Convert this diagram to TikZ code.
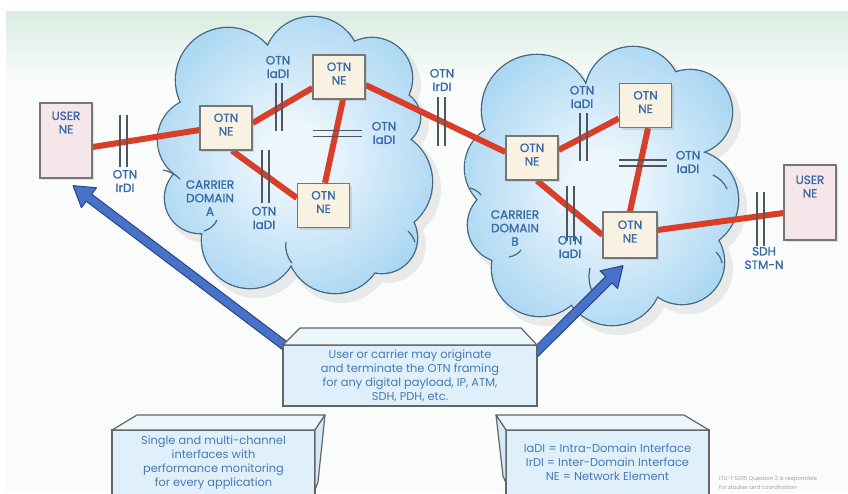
\documentclass[tikz,border=0pt]{standalone}
\usepackage{fontspec}
\setmainfont{Poppins}
\newfontfamily\lblfont{Poppins}[FakeBold=1.2]
\usetikzlibrary{calc,shadows}
\definecolor{cloudin}{RGB}{238,247,253}
\definecolor{cloudout}{RGB}{140,200,238}
\definecolor{cloudedge}{RGB}{70,102,124}
\definecolor{redline}{RGB}{216,62,40}
\definecolor{barcol}{RGB}{78,86,96}
\definecolor{necream}{RGB}{249,241,226}
\definecolor{userpink}{RGB}{245,230,233}
\definecolor{boxedge}{RGB}{118,118,118}
\definecolor{lbl}{RGB}{56,106,168}
\definecolor{arrowfill}{RGB}{72,114,200}
\definecolor{arrowedge}{RGB}{40,70,140}
\definecolor{frontcol}{RGB}{224,240,251}
\definecolor{topcol}{RGB}{236,246,253}
\definecolor{sidecol}{RGB}{212,232,247}
\definecolor{boxtext}{RGB}{72,120,182}
\definecolor{bgbase}{RGB}{250,252,252}
\definecolor{bggreen}{RGB}{216,236,224}
\pgfdeclarelayer{bg}
\pgfdeclarelayer{mid}
\pgfsetlayers{bg,mid,main}
\pgfdeclareradialshading{cloudshade}{\pgfpoint{0bp}{0bp}}{color(0bp)=(cloudin); color(5bp)=(cloudin); color(38bp)=(cloudout); color(50bp)=(cloudout)}
\newcommand\fatarrow[2]{%
  \coordinate (fa-h) at ($(#2)!20pt!(#1)$);
  \draw[bigarrow] (#2) -- ($(fa-h)!12.5pt!90:(#1)$) -- ($(fa-h)!4.5pt!90:(#1)$)
    -- ($(#1)!4.5pt!-90:(#2)$) -- ($(#1)!4.5pt!90:(#2)$)
    -- ($(fa-h)!4.5pt!-90:(#1)$) -- ($(fa-h)!12.5pt!-90:(#1)$) -- cycle;}
\begin{document}
\begin{tikzpicture}[x=1pt,y=-1pt,
  nebox/.style={draw=boxedge,line width=1.3pt,fill=necream,minimum width=52pt,minimum height=44pt,inner sep=0pt,
    drop shadow={opacity=.22,shadow xshift=2pt,shadow yshift=-2pt}},
  userbox/.style={nebox,fill=userpink,minimum height=75pt},
  lbltext/.style={text=lbl,font=\lblfont\fontsize{12}{13.5}\selectfont,align=center,inner sep=0pt},
  redlink/.style={draw=redline,line width=6pt},
  bar/.style={draw=barcol,line width=1.4pt},
  front/.style={draw=boxedge!85!black,line width=1.2pt,fill=frontcol,inner sep=0pt,align=center,
    text=boxtext,font=\fontsize{11.4}{14}\selectfont},
  topface/.style={draw=boxedge!85!black,line width=1.2pt,fill=topcol,line join=round},
  sideface/.style={draw=boxedge!85!black,line width=1.2pt,fill=sidecol,line join=round},
  bigarrow/.style={fill=arrowfill,draw=arrowedge,line width=1pt,line join=round},
  cloudline/.style={draw=cloudedge,line width=1.2pt},
  cloudborder/.style={draw=cloudedge,line width=2.6pt}
]
\useasboundingbox (0,0) rectangle (848,493);

% ---------- background and clouds ----------
\begin{pgfonlayer}{bg}
\fill[white] (0,0) rectangle (848,493);
\fill[bgbase] (6,11) rectangle (848,493);
\shade[top color=bggreen, bottom color=bgbase] (6,11) rectangle (848,80);
% cloud A
\fill[black,opacity=.07] foreach \a/\b/\r in {228/80/52,312/65/48,372/78/40,392/118/28,380/182/52,382/238/35,200/140/42,200/198/35,250/240/48,335/245/48,300/160/90} {(\a+6,\b+7) circle[radius=\r+3]};
\path[cloudborder] foreach \a/\b/\r in {228/80/52,312/65/48,372/78/40,392/118/28,380/182/52,382/238/35,200/140/42,200/198/35,250/240/48,335/245/48,300/160/90} {(\a,\b) circle[radius=\r]};
\path[shading=cloudshade] foreach \a/\b/\r in {228/80/52,312/65/48,372/78/40,392/118/28,380/182/52,382/238/35,200/140/42,200/198/35,250/240/48,335/245/48,300/160/90} {(\a,\b) circle[radius=\r]};
% cloud B
\fill[black,opacity=.07] foreach \a/\b/\r in {537/110/55,633/95/48,690/112/42,688/200/50,682/262/42,612/275/50,540/268/48,510/168/45,505/225/37,600/190/95} {(\a+6,\b+7) circle[radius=\r+3]};
\path[cloudborder] foreach \a/\b/\r in {537/110/55,633/95/48,690/112/42,688/200/50,682/262/42,612/275/50,540/268/48,510/168/45,505/225/37,600/190/95} {(\a,\b) circle[radius=\r]};
\path[shading=cloudshade] foreach \a/\b/\r in {537/110/55,633/95/48,690/112/42,688/200/50,682/262/42,612/275/50,540/268/48,510/168/45,505/225/37,600/190/95} {(\a,\b) circle[radius=\r]};
% inner lobe lines
\draw[cloudline] (163,170) .. controls (169,171) and (175,174) .. (180,179);
\draw[cloudline] (217,220) .. controls (214,226) and (210,229) .. (204,231);
\draw[cloudline] (286,242) .. controls (285,250) and (287,257) .. (292,263);
\draw[cloudline] (408,231) .. controls (411,234) and (413,237) .. (415,242);
\draw[cloudline] (470,188) .. controls (474,189) and (478,191) .. (481,195);
\draw[cloudline] (521,250) .. controls (518,254) and (514,256) .. (509,257);
\draw[cloudline] (590,268) .. controls (588,277) and (589,287) .. (594,295);
\draw[cloudline] (713,175) .. controls (719,178) and (724,182) .. (727,189);
\draw[cloudline] (716,252) .. controls (719,255) and (721,258) .. (722,263);
\end{pgfonlayer}

% ---------- network elements ----------
\node[userbox] (uL) at (66,140.5) {};
\node[lbltext] at ([yshift=18pt]uL.center) {USER\\NE};
\node[nebox] (A1) at (226,128) {};
\node[lbltext] at ([yshift=3.5pt]A1.center) {OTN\\NE};
\node[nebox] (A2) at (339,77) {};
\node[lbltext] at ([yshift=3.5pt]A2.center) {OTN\\NE};
\node[nebox] (A3) at (323.5,205.5) {};
\node[lbltext] at ([yshift=3.5pt]A3.center) {OTN\\NE};
\node[nebox] (B1) at (532,158) {};
\node[lbltext] at ([yshift=3.5pt]B1.center) {OTN\\NE};
\node[nebox] (B2) at (645.5,105.5) {};
\node[lbltext] at ([yshift=3.5pt]B2.center) {OTN\\NE};
\node[nebox,minimum width=54pt,minimum height=46pt] (B3) at (630,235) {};
\node[lbltext] at ([yshift=3.5pt]B3.center) {OTN\\NE};
\node[userbox] (uR) at (810,202.5) {};
\node[lbltext] at ([yshift=16pt]uR.center) {USER\\NE};

% ---------- text boxes ----------
\node[front,minimum width=254pt,minimum height=61pt] (msg) at (410,375.5)
  {User or carrier may originate\\and terminate the OTN framing\\for any digital payload, IP, ATM,\\SDH, PDH, etc.};
\draw[topface] (283,345) -- (300,328) -- (521,328) -- (537,345) -- cycle;

\node[front,minimum width=203pt,minimum height=65pt] (feat) at (213.5,462.5)
  {Single and multi-channel\\interfaces with\\performance monitoring\\for every application};
\draw[topface] (112,430) -- (137,415) -- (325,415) -- (315,430) -- cycle;
\draw[sideface] (315,430) -- (325,415) -- (318,482) -- (315,490) -- cycle;

\node[front,minimum width=203pt,minimum height=65pt] (def) at (607.5,462.5)
  {IaDI = Intra-Domain Interface\\IrDI = Inter-Domain Interface\\NE = Network Element};
\draw[topface] (506,430) -- (496,415) -- (684,415) -- (709,430) -- cycle;
\draw[sideface] (506,430) -- (496,415) -- (503,476) -- (506,483) -- cycle;

% ---------- links and arrows ----------
\begin{pgfonlayer}{mid}
\draw[redlink] ([yshift=-6.5pt]uL.east) -- ([yshift=-2pt]A1.west);
\draw[redlink] ([yshift=5pt]A1.east) -- ([yshift=-11pt]A2.west);
\draw[redlink] ([xshift=6pt]A1.south) -- ([yshift=7.5pt]A3.west);
\draw[redlink] ([xshift=4pt]A2.south) -- ([xshift=1.5pt]A3.north);
\draw[redlink] ([yshift=-8pt]A2.east) -- ([yshift=6pt]B1.west);
\draw[redlink] ([yshift=8pt]B1.east) -- ([yshift=-13pt]B2.west);
\draw[redlink] ([xshift=5pt]B1.south) -- (B3.west);
\draw[redlink] ([xshift=2.5pt]B2.south) -- (B3.north);
\draw[redlink] ([yshift=5pt]B3.east) -- ([yshift=-10.5pt]uR.west);
\coordinate (a1s) at ($(msg.north west)+(6pt,-4pt)$);
\coordinate (a1t) at ([shift={(7pt,-7pt)}]uL.south);
\fatarrow{a1s}{a1t}
\coordinate (a2s) at ($(msg.north east)+(-8pt,-14pt)$);
\coordinate (a2t) at ([shift={(-7pt,-7pt)}]B3.south);
\fatarrow{a2s}{a2t}
\end{pgfonlayer}

% ---------- interface marks ----------
\draw[bar] (120,115) -- (120,167) (127,115) -- (127,167);
\draw[bar] (276,83) -- (276,131) (282,83) -- (282,131);
\draw[bar] (313,130.5) -- (362,130.5) (313,136.5) -- (362,136.5);
\draw[bar] (262,150) -- (262,203) (269,150) -- (269,203);
\draw[bar] (438,97) -- (438,146) (445,97) -- (445,146);
\draw[bar] (580,113) -- (580,161) (587,113) -- (587,161);
\draw[bar] (619,160) -- (667,160) (619,166) -- (667,166);
\draw[bar] (567,186) -- (567,241) (574,186) -- (574,241);
\draw[bar] (757,192) -- (757,246) (764,192) -- (764,246);

% ---------- labels ----------
\node[lbltext] at (125,181) {OTN\\IrDI};
\node[lbltext] at (278,67) {OTN\\IaDI};
\node[lbltext] at (384,133) {OTN\\IaDI};
\node[lbltext] at (264,218) {OTN\\IaDI};
\node[lbltext] at (442,80) {OTN\\IrDI};
\node[lbltext] at (582,97) {OTN\\IaDI};
\node[lbltext] at (688,162) {OTN\\IaDI};
\node[lbltext] at (570,247) {OTN\\IaDI};
\node[lbltext] at (764,258) {SDH\\STM-N};
\node[lbltext] at (210,198) {CARRIER\\DOMAIN\\A};
\node[lbltext] at (515,228) {CARRIER\\DOMAIN\\B};

% ---------- footnote ----------
\node[anchor=north west,inner sep=0pt,align=left,text=gray!75,font=\fontsize{5.5}{9}\selectfont] (note) at (719,476)
  {ITU-T SG15 Question 3 is responsible\\for studies and coordination};
\end{tikzpicture}
\end{document}
